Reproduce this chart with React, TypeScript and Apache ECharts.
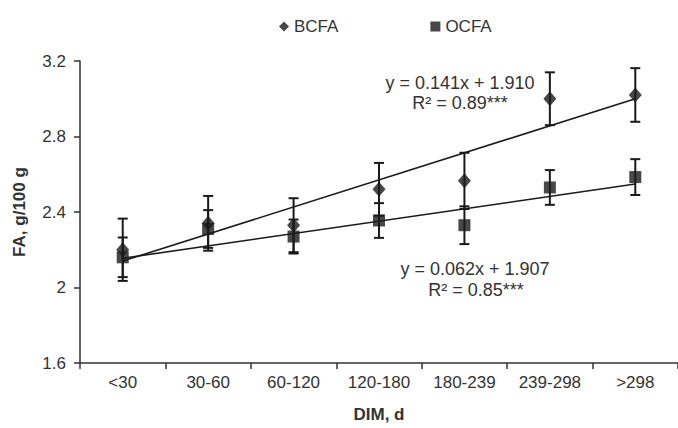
import React, { useEffect, useRef } from "react";
import * as echarts from "echarts";

const categories = ["<30", "30-60", "60-120", "120-180", "180-239", "239-298", ">298"];
const bcfaMean = [2.2, 2.34, 2.33, 2.52, 2.565, 3.0, 3.02];
const bcfaErr = [0.165, 0.145, 0.143, 0.14, 0.149, 0.14, 0.142];
const ocfaMean = [2.16, 2.31, 2.27, 2.355, 2.33, 2.53, 2.585];
const ocfaErr = [0.105, 0.1, 0.09, 0.092, 0.1, 0.092, 0.095];
// trend-line end points (first and last category)
const bcfaTrend = [2.14, 3.0];
const ocfaTrend = [2.155, 2.548];
const yTicks = { min: 1.6, max: 3.2, interval: 0.4 };
const eqBcfa = ["y = 0.141x + 1.910", "R² = 0.89***"];
const eqOcfa = ["y = 0.062x + 1.907", "R² = 0.85***"];

const FONT = "'Liberation Sans', Arial, sans-serif";
const TXT = "#333";
const INK = "#1a1a1a";

function errorSeries(mean: number[], err: number[]) {
  return {
    type: "custom",
    silent: true,
    z: 3,
    encode: { x: 0, y: [1, 2] },
    data: mean.map((m, i) => [i, m - err[i], m + err[i]]),
    renderItem: (params: any, api: any) => {
      const x = api.value(0);
      const lo = api.coord([x, api.value(1)]);
      const hi = api.coord([x, api.value(2)]);
      const hw = 5;
      const st = { stroke: INK, lineWidth: 2 };
      return {
        type: "group",
        children: [
          { type: "line", shape: { x1: lo[0], y1: lo[1], x2: hi[0], y2: hi[1] }, style: st },
          { type: "line", shape: { x1: lo[0] - hw, y1: lo[1], x2: lo[0] + hw, y2: lo[1] }, style: st },
          { type: "line", shape: { x1: hi[0] - hw, y1: hi[1], x2: hi[0] + hw, y2: hi[1] }, style: st },
        ],
      };
    },
  };
}

export default function App() {
  const ref = useRef<HTMLDivElement>(null);
  useEffect(() => {
    if (!ref.current) return;
    const chart = echarts.init(ref.current, null, { renderer: "svg" });
    const last = categories.length - 1;
    chart.setOption({
      animation: false,
      backgroundColor: "#fff",
      textStyle: { fontFamily: FONT },
      grid: { left: 80, right: 0, top: 61, bottom: 55, containLabel: false },
      legend: {
        data: ["BCFA", "OCFA"],
        left: 274,
        top: 13,
        itemWidth: 10,
        itemHeight: 10,
        itemGap: 92,
        textStyle: { fontFamily: FONT, fontSize: 17, color: TXT },
      },
      xAxis: {
        type: "category",
        data: categories,
        boundaryGap: true,
        name: "DIM, d",
        nameLocation: "middle",
        nameGap: 43,
        nameTextStyle: { fontFamily: FONT, fontSize: 17, fontWeight: "bold", color: TXT },
        axisLine: { lineStyle: { color: "#333", width: 1.5 } },
        axisTick: { show: true, length: 6, interval: 0, lineStyle: { color: "#333", width: 1.5 } },
        axisLabel: { fontFamily: FONT, fontSize: 17, color: TXT, margin: 11, interval: 0 },
        splitLine: { show: false },
      },
      yAxis: {
        type: "value",
        min: yTicks.min,
        max: yTicks.max,
        interval: yTicks.interval,
        name: "FA, g/100 g",
        nameLocation: "middle",
        nameRotate: 90,
        nameGap: 52,
        nameTextStyle: { fontFamily: FONT, fontSize: 17, fontWeight: "bold", color: TXT },
        axisLine: { show: true, lineStyle: { color: "#333", width: 1.5 } },
        axisTick: { show: true, length: 6, lineStyle: { color: "#333", width: 1.5 } },
        axisLabel: { fontFamily: FONT, fontSize: 17, color: TXT, margin: 14 },
        splitLine: { show: false },
      },
      series: [
        {
          name: "trendB",
          type: "line",
          data: [[0, bcfaTrend[0]], [last, bcfaTrend[1]]],
          symbol: "none",
          lineStyle: { color: INK, width: 1.6 },
          z: 2,
          silent: true,
        },
        {
          name: "trendO",
          type: "line",
          data: [[0, ocfaTrend[0]], [last, ocfaTrend[1]]],
          symbol: "none",
          lineStyle: { color: INK, width: 1.6 },
          z: 2,
          silent: true,
        },
        errorSeries(bcfaMean, bcfaErr),
        errorSeries(ocfaMean, ocfaErr),
        {
          name: "BCFA",
          type: "scatter",
          symbol: "diamond",
          symbolSize: [13, 15],
          itemStyle: { color: INK },
          data: bcfaMean,
          z: 4,
        },
        {
          name: "OCFA",
          type: "scatter",
          symbol: "rect",
          symbolSize: 12,
          itemStyle: { color: INK },
          data: ocfaMean,
          z: 5,
        },
      ],
      graphic: [
        { type: "text", x: 460, y: 83, style: { text: eqBcfa[0], font: `18px ${FONT}`, fill: TXT, textAlign: "center", textVerticalAlign: "middle" } },
        { type: "text", x: 460, y: 103, style: { text: eqBcfa[1], font: `18px ${FONT}`, fill: TXT, textAlign: "center", textVerticalAlign: "middle" } },
        { type: "text", x: 475, y: 269, style: { text: eqOcfa[0], font: `18px ${FONT}`, fill: TXT, textAlign: "center", textVerticalAlign: "middle" } },
        { type: "text", x: 476, y: 290, style: { text: eqOcfa[1], font: `18px ${FONT}`, fill: TXT, textAlign: "center", textVerticalAlign: "middle" } },
      ],
    });
    return () => chart.dispose();
  }, []);
  return (
    <div
      ref={ref}
      style={{ position: "fixed", left: 0, top: 0, width: 678, height: 428, background: "#fff" }}
    />
  );
}
